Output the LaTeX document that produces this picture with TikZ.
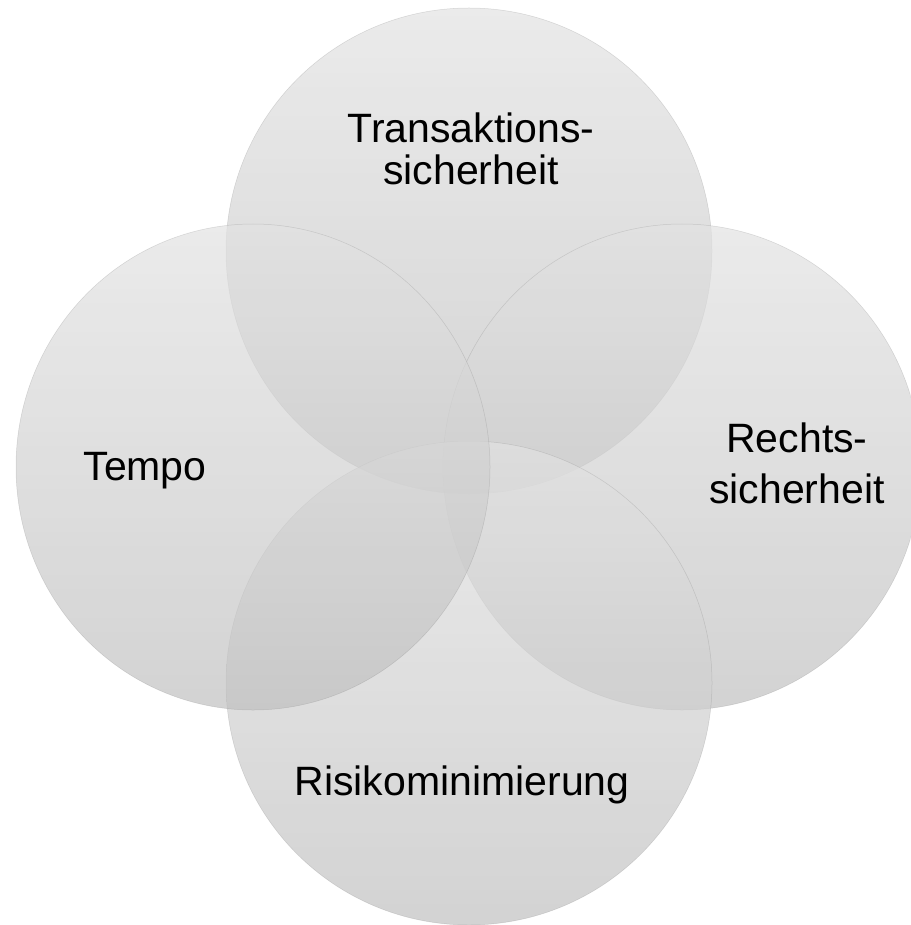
\documentclass[tikz,border=0pt]{standalone}
\usepackage{xcolor}
\usepackage{tikz}
\usepackage{fontspec}
\setmainfont{Liberation Sans}

\begin{document}
\begin{tikzpicture}[x=1pt,y=1pt,yscale=-1,
  venn/.style={draw={rgb, 255:red, 120; green, 120; blue, 120}, draw opacity=0.25, line width=0.5,
    top color={rgb, 255:red, 226; green, 226; blue, 226}, bottom color={rgb, 255:red, 192; green, 192; blue, 192},
    fill opacity=0.7},
  lbl/.style={font=\fontsize{41}{42}\selectfont, inner sep=0pt, align=center, anchor=base}]
\useasboundingbox (0,0) rectangle (910,925); %page is 910 x 925

%Shape: Circle [top]
\draw [venn] (469,251) circle [x radius=243, y radius=243];
%Shape: Circle [right]
\draw [venn] (682,467) circle [x radius=239, y radius=243];
%Shape: Circle [bottom]
\draw [venn] (469,683) circle [x radius=243, y radius=242];
%Shape: Circle [left]
\draw [venn] (253,467) circle [x radius=237, y radius=243];

% Text Node
\draw (471,185) node (trans) [lbl] {Transaktions-\\sicherheit};
% Text Node
\draw (797,503) node (recht) [lbl] {Rechts-\\[9pt]sicherheit};
% Text Node
\draw (145,480) node (tempo) [lbl] {Tempo};
% Text Node
\draw (462,795) node (risiko) [lbl] {Risikominimierung};

\end{tikzpicture}
\end{document}
